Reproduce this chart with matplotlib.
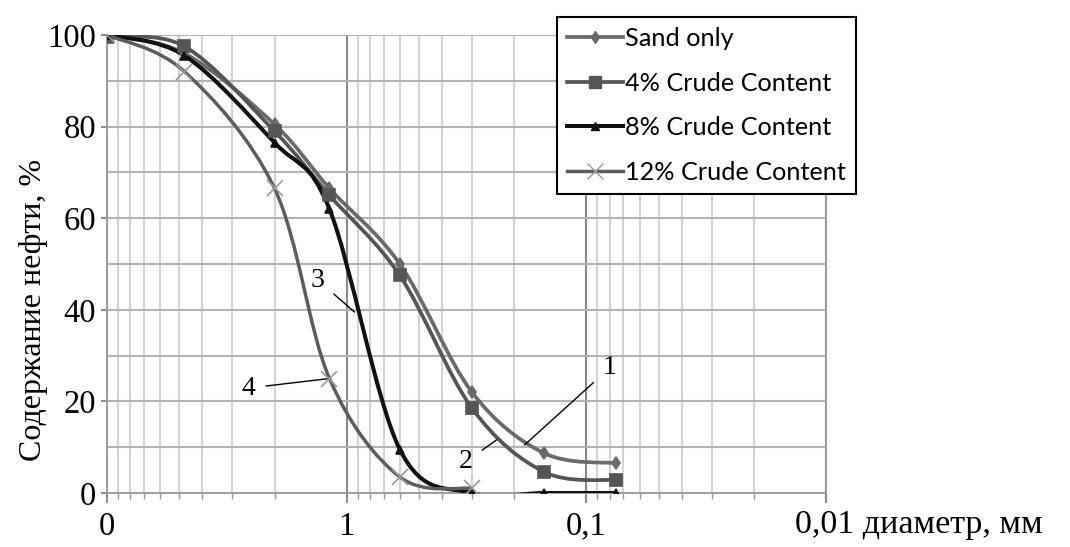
import numpy as np
import matplotlib
matplotlib.use("Agg")
import matplotlib.pyplot as plt
from matplotlib.path import Path
from matplotlib.patches import PathPatch
from matplotlib.lines import Line2D

plt.rcParams["font.family"] = "Liberation Serif"

# sieve sizes, mm
sizes = [10, 4.75, 2, 1.18, 0.6, 0.3, 0.15, 0.075]
sand = [100, 96, 80.5, 66.5, 50, 22, 8.7, 6.5]
crude4 = [99.5, 97.5, 79, 65, 47.5, 18.5, 4.6, 2.8]
crude8 = [100, 95.5, 76.5, 62, 9.5, 0, 0, 0]
sizes12 = [10, 4.75, 2, 1.18, 0.6, 0.3]
crude12 = [100, 92, 66.5, 25, 3.5, 1]

names = ["Sand only", "4% Crude Content", "8% Crude Content", "12% Crude Content"]
xtick_vals = [10, 1, 0.1, 0.01]
xtick_labels = ["0", "1", "0,1", ""]

grey1 = '#6a6a6a'
grey2 = '#555555'
black = '#111111'
grey4 = '#5c5c5c'


def smooth_path(x, y):
    # catmull-rom style bezier through the points, built in log-x space
    lx = np.log10(x)
    y = np.asarray(y, float)
    n = len(lx)
    verts = [(x[0], y[0])]
    codes = [Path.MOVETO]
    for i in range(n - 1):
        i0 = max(i - 1, 0)
        i3 = min(i + 2, n - 1)
        c1x = lx[i] + (lx[i + 1] - lx[i0]) / 6.
        c1y = y[i] + (y[i + 1] - y[i0]) / 6.
        c2x = lx[i + 1] - (lx[i3] - lx[i]) / 6.
        c2y = y[i + 1] - (y[i3] - y[i]) / 6.
        verts += [(10 ** c1x, c1y), (10 ** c2x, c2y), (x[i + 1], y[i + 1])]
        codes += [Path.CURVE4] * 3
    return Path(verts, codes)


fig = plt.figure(figsize=(10.7, 5.47), dpi=100)
ax = fig.add_axes([0.1, 0.0987, 0.672, 0.8373])
ax.set_xscale('log')
ax.set_xlim(10, 0.01)
ax.set_ylim(0, 100)

ax.set_xticks(xtick_vals)
ax.set_xticklabels(xtick_labels)
ax.set_yticks(np.arange(0, 101, 20))
ax.set_yticks(np.arange(10, 100, 20), minor=True)
ax.tick_params(axis='both', which='major', labelsize=23.5, length=7, width=1.2, color='#777777', pad=6)
ax.tick_params(axis='x', which='minor', length=4, width=1, color='#999999')
ax.tick_params(axis='y', which='minor', length=0)
ax.tick_params(axis='y', which='major', length=4, pad=4)

ax.grid(True, which='minor', axis='x', color='#cfcfcf', lw=1.3)
ax.grid(True, which='major', axis='x', color='#8a8a8a', lw=1.5)
ax.grid(True, which='both', axis='y', color='#b3b3b3', lw=1.5)
ax.set_axisbelow(True)
for s in ax.spines.values():
    s.set_color('#9a9a9a')
    s.set_linewidth(1.3)
ax.spines['top'].set_visible(False)

series = [
    (sizes, sand, grey1, 'd', 6, 2.7),
    (sizes, crude4, grey2, 's', 8, 2.7),
    (sizes, crude8, black, '^', 6, 2.9),
    (sizes12, crude12, grey4, 'x', 11, 2.5),
]
handles = []
for (xs, ys, col, mk, ms, lw), nm in zip(series, names):
    ax.add_patch(PathPatch(smooth_path(xs, ys), fill=False, edgecolor=col, lw=lw, zorder=3))
    mcol = '#9a9a9a' if mk == 'x' else col
    ax.plot(xs, ys, ls='none', marker=mk, ms=ms, color=mcol, mew=1.2, zorder=4)
    handles.append(Line2D([], [], color=col, lw=lw, marker=mk, ms=ms,
                          markerfacecolor=mcol, markeredgecolor=mcol, label=nm))

leg = fig.legend(handles=handles, loc='upper left', bbox_to_anchor=(557 / 1070., 1 - 17 / 547.),
                 frameon=True, fancybox=False, edgecolor='black', framealpha=1,
                 prop={'family': 'Lato', 'size': 18.2}, handlelength=2.2, handletextpad=0.1,
                 labelspacing=0.85, borderpad=0.4, borderaxespad=0.)
leg.get_frame().set_linewidth(1.5)

ax.set_ylabel("Содержание нефти, %", fontsize=23)
ax.yaxis.set_label_coords(-0.082, 0.40)
ax.text(0.0135, -0.07, "0,01 диаметр, мм", fontsize=24.5, ha='left', va='center',
        transform=ax.get_xaxis_transform(), clip_on=False)

# curve numbers
lab = dict(fontsize=20, ha='center', va='center')
arw = dict(arrowstyle='-', color='black', lw=1.0, shrinkA=6, shrinkB=0)
ax.annotate("1", xy=(0.181, 10.5), xytext=(0.080, 27.3), arrowprops=arw, **lab)
ax.annotate("2", xy=(0.237, 11.6), xytext=(0.319, 6.8), arrowprops=arw, **lab)
ax.annotate("3", xy=(0.927, 39.5), xytext=(1.32, 46.5), arrowprops=arw, **lab)
ax.annotate("4", xy=(1.18, 25), xytext=(2.58, 22.9), arrowprops=arw, **lab)

plt.savefig("out.png", dpi=100)
